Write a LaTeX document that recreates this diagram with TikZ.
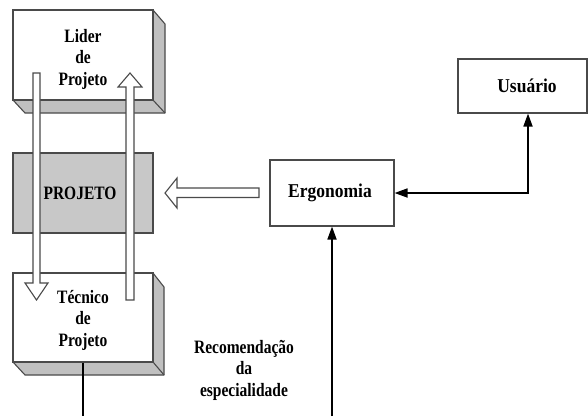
\documentclass[tikz,border=0pt]{standalone}
\usepackage{fontspec}
\usepackage{graphicx}
\setmainfont{Liberation Serif}
\usetikzlibrary{arrows.meta}
\definecolor{sidegray}{HTML}{C0C0C0}
\definecolor{boxgray}{HTML}{C8C8C8}
\definecolor{edge}{HTML}{4A4A4A}
\newcommand{\tallL}[1]{\scalebox{1}[1.22]{#1}}
\newcommand{\tallR}[1]{\scalebox{1}[1.12]{#1}}
\newcommand{\myskip}{\lineskiplimit=-20pt\relax}
\tikzset{
  face/.style={draw=edge, line width=1.1pt, fill=white, inner sep=0pt},
  leftlabel/.style={font=\fontsize{15.5}{21.5}\selectfont\bfseries\myskip, align=center},
  rightlabel/.style={font=\fontsize{17.5}{21}\selectfont\bfseries, align=center},
  shade3d/.style={draw=edge, line width=1.1pt, fill=sidegray, line join=round},
  hollow/.style={draw=edge, line width=1.1pt, fill=white, line join=miter},
  link/.style={line width=1.7pt, -{Triangle[length=13pt,width=9pt]}},
  plain/.style={line width=1.4pt}
}
\begin{document}
\begin{tikzpicture}[x=1pt,y=-1pt]
\useasboundingbox (0,0) rectangle (588,416);
% Lider de Projeto (3D box)
\path[shade3d] (153,10) -- (165,24) -- (165,113) -- (25,113) -- (13,100) -- (153,100) -- cycle;
\draw[edge, line width=1.1pt] (153,100) -- (165,113);
\node[face, minimum width=140pt, minimum height=90pt] (lider) at (83,55) {};
\node[leftlabel] (lidertxt) at (83,59) {\tallL{Lider}\\\tallL{de}\\\tallL{Projeto}};
% Tecnico de Projeto (3D box)
\path[shade3d] (153,273) -- (164,287) -- (164,375) -- (25,375) -- (13,362) -- (153,362) -- cycle;
\draw[edge, line width=1.1pt] (153,362) -- (164,375);
\node[face, minimum width=140pt, minimum height=89pt] (tec) at (83,317.5) {};
\node[leftlabel] (tectxt) at (83,320) {\tallL{T\'ecnico}\\\tallL{de}\\\tallL{Projeto}};
% PROJETO
\node[face, fill=boxgray, minimum width=140pt, minimum height=80pt] (proj) at (83,193) {};
% vertical hollow arrows
\path[hollow] (33,73) -- (40,73) -- (40,283) -- (48,283) -- (36.5,300) -- (25,283) -- (33,283) -- cycle;
\path[hollow] (126,300) -- (134,300) -- (134,87) -- (142,87) -- (130,73) -- (118,87) -- (126,87) -- cycle;
\node[leftlabel] (projtxt) at (80,193) {\tallL{PROJETO}};
% Ergonomia and Usuario
\node[face, minimum width=124pt, minimum height=66pt] (ergo) at (332,193) {};
\node[rightlabel] (ergotxt) at (330,193) {\tallR{Ergonomia}};
\node[face, minimum width=129pt, minimum height=54pt] (usu) at (522.5,86) {};
\node[rightlabel] (usutxt) at (527,86) {\tallR{Usu\'ario}};
% big hollow arrow Ergonomia -> PROJETO
\path[hollow] (259,188) -- (259,197.5) -- (177,197.5) -- (177,208) -- (165,193) -- (177,178) -- (177,188) -- cycle;
% connectors
\coordinate (usubot) at ([xshift=5.5pt]usu.south);
\draw[link, {Triangle[length=13pt,width=9pt]}-{Triangle[length=13pt,width=9pt]}] (usubot) |- (ergo.east);
\coordinate (ergofoot) at (ergo.south |- 0,416);
\draw[link] (ergofoot) -- (ergo.south);
\coordinate (tecfoot) at (tec.south |- 0,416);
\draw[plain] (tec.south) -- (tecfoot);
% label
\node[leftlabel] (rec) at (244,370) {\tallL{Recomenda\c{c}\~ao}\\\tallL{da}\\\tallL{especialidade}};
\end{tikzpicture}
\end{document}
